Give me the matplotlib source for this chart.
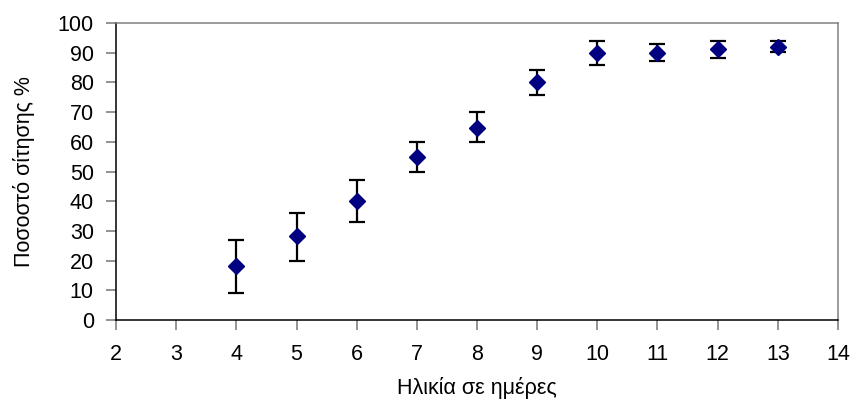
import matplotlib
matplotlib.use("Agg")
import matplotlib.pyplot as plt

days = [4, 5, 6, 7, 8, 9, 10, 11, 12, 13]
feeding = [18.2, 28.3, 40.0, 54.8, 64.8, 80.1, 90.0, 90.0, 91.3, 91.9]
err_upper = [27, 36, 47, 60.1, 70.1, 84.3, 94.1, 93.0, 94.1, 94.1]
err_lower = [9, 20, 33, 50, 60.1, 75.8, 85.9, 87.2, 88.3, 90.1]
xticks = list(range(2, 15))
yticks = list(range(0, 101, 10))

plt.rcParams['font.family'] = ['Liberation Sans', 'DejaVu Sans']

fig = plt.figure(figsize=(8.52, 4.03), dpi=100)
ax = fig.add_axes([116/852, 1 - 320/403, (838-116)/852, (320-23)/403])

yerr = [[f - l for f, l in zip(feeding, err_lower)],
        [u - f for f, u in zip(feeding, err_upper)]]
ax.errorbar(days, feeding, yerr=yerr, fmt='none', ecolor='black',
            elinewidth=1.6, capsize=5.5, capthick=1.6, zorder=2)
ax.plot(days, feeding, linestyle='none', marker='D', markersize=7.8,
        color='#000080', markeredgecolor='#000080', zorder=3)

ax.set_xlim(2, 14)
ax.set_ylim(0, 100)
ax.set_xticks(xticks)
ax.set_yticks(yticks)
ax.tick_params(axis='both', direction='out', length=7, width=1.2,
               color='#808080', labelsize=15.5, pad=9)
ax.tick_params(axis='x', pad=10)

for s in ['left', 'bottom']:
    ax.spines[s].set_color('black')
    ax.spines[s].set_linewidth(1.1)
for s in ['top', 'right']:
    ax.spines[s].set_color('#808080')
    ax.spines[s].set_linewidth(1.1)

ax.set_xlabel('Ηλικία σε ημέρες', fontsize=15.5, labelpad=9)
ax.set_ylabel('Ποσοστό σίτησης %', fontsize=15.5, labelpad=16)

fig.savefig('out.png', dpi=100)
